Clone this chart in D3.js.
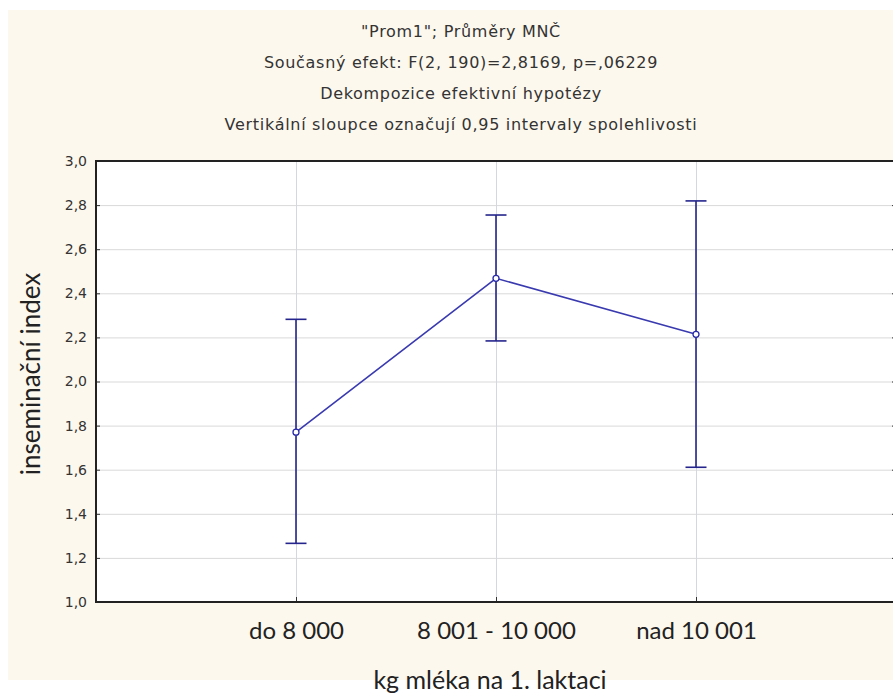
<!DOCTYPE html>
<html>
<head>
<meta charset="utf-8">
<script src="https://cdn.jsdelivr.net/npm/d3@7"></script>
<style>
  body { margin: 0; background: #fff; }
  svg { display: block; }
</style>
</head>
<body>
<div id="chart"></div>
<script>
var categories = ["do 8 000", "8 001 - 10 000", "nad 10 001"];
var means = [1.770, 2.468, 2.214];
var lower = [1.266, 2.184, 1.611];
var upper = [2.282, 2.755, 2.819];
var yTicks = [1.0, 1.2, 1.4, 1.6, 1.8, 2.0, 2.2, 2.4, 2.6, 2.8, 3.0];
var titleLines = [
  "\"Prom1\"; Průměry MNČ",
  "Současný efekt: F(2, 190)=2,8169, p=,06229",
  "Dekompozice efektivní hypotézy",
  "Vertikální sloupce označují 0,95 intervaly spolehlivosti"
];

var width = 893, height = 699;
var margin = {top: 161, left: 96, right: 896, bottom: 602};

var svg = d3.select("#chart").append("svg")
  .attr("width", width)
  .attr("height", height);

// cream panel
svg.append("rect")
  .attr("x", 8).attr("y", 10)
  .attr("width", width - 8).attr("height", 670)
  .attr("fill", "#fdf8ed");

var x = d3.scalePoint().domain(categories).range([margin.left, margin.right]).padding(1);
var y = d3.scaleLinear().domain([1, 3]).range([margin.bottom, margin.top]);

// plot area
svg.append("rect")
  .attr("x", margin.left).attr("y", margin.top)
  .attr("width", margin.right - margin.left)
  .attr("height", margin.bottom - margin.top)
  .attr("fill", "#ffffff");

// grid
svg.append("g")
  .attr("transform", "translate(" + margin.left + ",0)")
  .call(d3.axisLeft(y).tickValues(yTicks).tickSize(-(margin.right - margin.left)).tickFormat(""))
  .call(function(g) {
    g.select(".domain").remove();
    g.selectAll("line").attr("stroke", "#d9d9d9");
  });

svg.append("g")
  .attr("transform", "translate(0," + margin.bottom + ")")
  .call(d3.axisBottom(x).tickSize(-(margin.bottom - margin.top)).tickFormat(""))
  .call(function(g) {
    g.select(".domain").remove();
    g.selectAll("line").attr("stroke", "#d4d6e4");
  });

// axes
var fmt = function(d) { return d3.format(".1f")(d).replace(".", ","); };

svg.append("g")
  .attr("transform", "translate(" + margin.left + ",0)")
  .call(d3.axisLeft(y).tickValues(yTicks).tickSizeInner(-4).tickSizeOuter(0).tickPadding(9).tickFormat(fmt))
  .call(function(g) {
    g.select(".domain").remove();
    g.selectAll("line").attr("stroke", "#333");
    g.selectAll("text")
      .attr("font-family", "DejaVu Sans")
      .attr("font-size", 14)
      .attr("fill", "#333");
  });

svg.append("g")
  .attr("transform", "translate(" + margin.right + ",0)")
  .call(d3.axisRight(y).tickValues(yTicks).tickSizeInner(-4).tickSizeOuter(0).tickFormat(""))
  .call(function(g) {
    g.select(".domain").remove();
    g.selectAll("line").attr("stroke", "#333");
  });

svg.append("g")
  .attr("transform", "translate(0," + margin.bottom + ")")
  .call(d3.axisBottom(x).tickSizeInner(-5).tickSizeOuter(0).tickPadding(20))
  .call(function(g) {
    g.select(".domain").remove();
    g.selectAll("line").attr("stroke", "#333");
    g.selectAll("text")
      .attr("font-family", "Lato")
      .attr("font-size", 24)
      .attr("fill", "#222");
  });

// frame: left, top, bottom
svg.append("path")
  .attr("d", "M" + (margin.right + 2) + "," + margin.top + "H" + margin.left +
             "V" + margin.bottom + "H" + (margin.right + 2))
  .attr("fill", "none")
  .attr("stroke", "#222")
  .attr("stroke-width", 2);

// error bars
var bars = svg.append("g").attr("class", "bars");
categories.forEach(function(c, i) {
  bars.append("line")
    .attr("x1", x(c)).attr("x2", x(c))
    .attr("y1", y(lower[i])).attr("y2", y(upper[i]))
    .attr("stroke", "#24248c").attr("stroke-width", 1.6);
  [lower[i], upper[i]].forEach(function(v) {
    bars.append("line")
      .attr("x1", x(c) - 10.5).attr("x2", x(c) + 10.5)
      .attr("y1", y(v)).attr("y2", y(v))
      .attr("stroke", "#24248c").attr("stroke-width", 1.6);
  });
});

// mean line
var line = d3.line()
  .x(function(d, i) { return x(categories[i]); })
  .y(function(d) { return y(d); });

svg.append("path")
  .datum(means)
  .attr("d", line)
  .attr("fill", "none")
  .attr("stroke", "#3a3ab0")
  .attr("stroke-width", 1.6);

svg.selectAll("circle.mean")
  .data(means)
  .enter().append("circle")
  .attr("class", "mean")
  .attr("cx", function(d, i) { return x(categories[i]); })
  .attr("cy", function(d) { return y(d); })
  .attr("r", 3)
  .attr("fill", "#fff")
  .attr("stroke", "#2a2aa8")
  .attr("stroke-width", 1.3);

// titles
svg.selectAll("text.title")
  .data(titleLines)
  .enter().append("text")
  .attr("class", "title")
  .attr("x", 461)
  .attr("y", function(d, i) { return 37 + i * 31; })
  .attr("text-anchor", "middle")
  .attr("font-family", "DejaVu Sans")
  .attr("font-size", 16)
  .attr("letter-spacing", 0.7)
  .attr("fill", "#333")
  .text(function(d) { return d; });

svg.append("text")
  .attr("x", 490)
  .attr("y", 689)
  .attr("text-anchor", "middle")
  .attr("font-family", "Lato")
  .attr("font-size", 25)
  .attr("fill", "#222")
  .text("kg mléka na 1. laktaci");

svg.append("text")
  .attr("transform", "translate(40,374) rotate(-90)")
  .attr("text-anchor", "middle")
  .attr("font-family", "Lato")
  .attr("font-size", 26)
  .attr("fill", "#222")
  .text("inseminační index");
</script>
</body>
</html>
